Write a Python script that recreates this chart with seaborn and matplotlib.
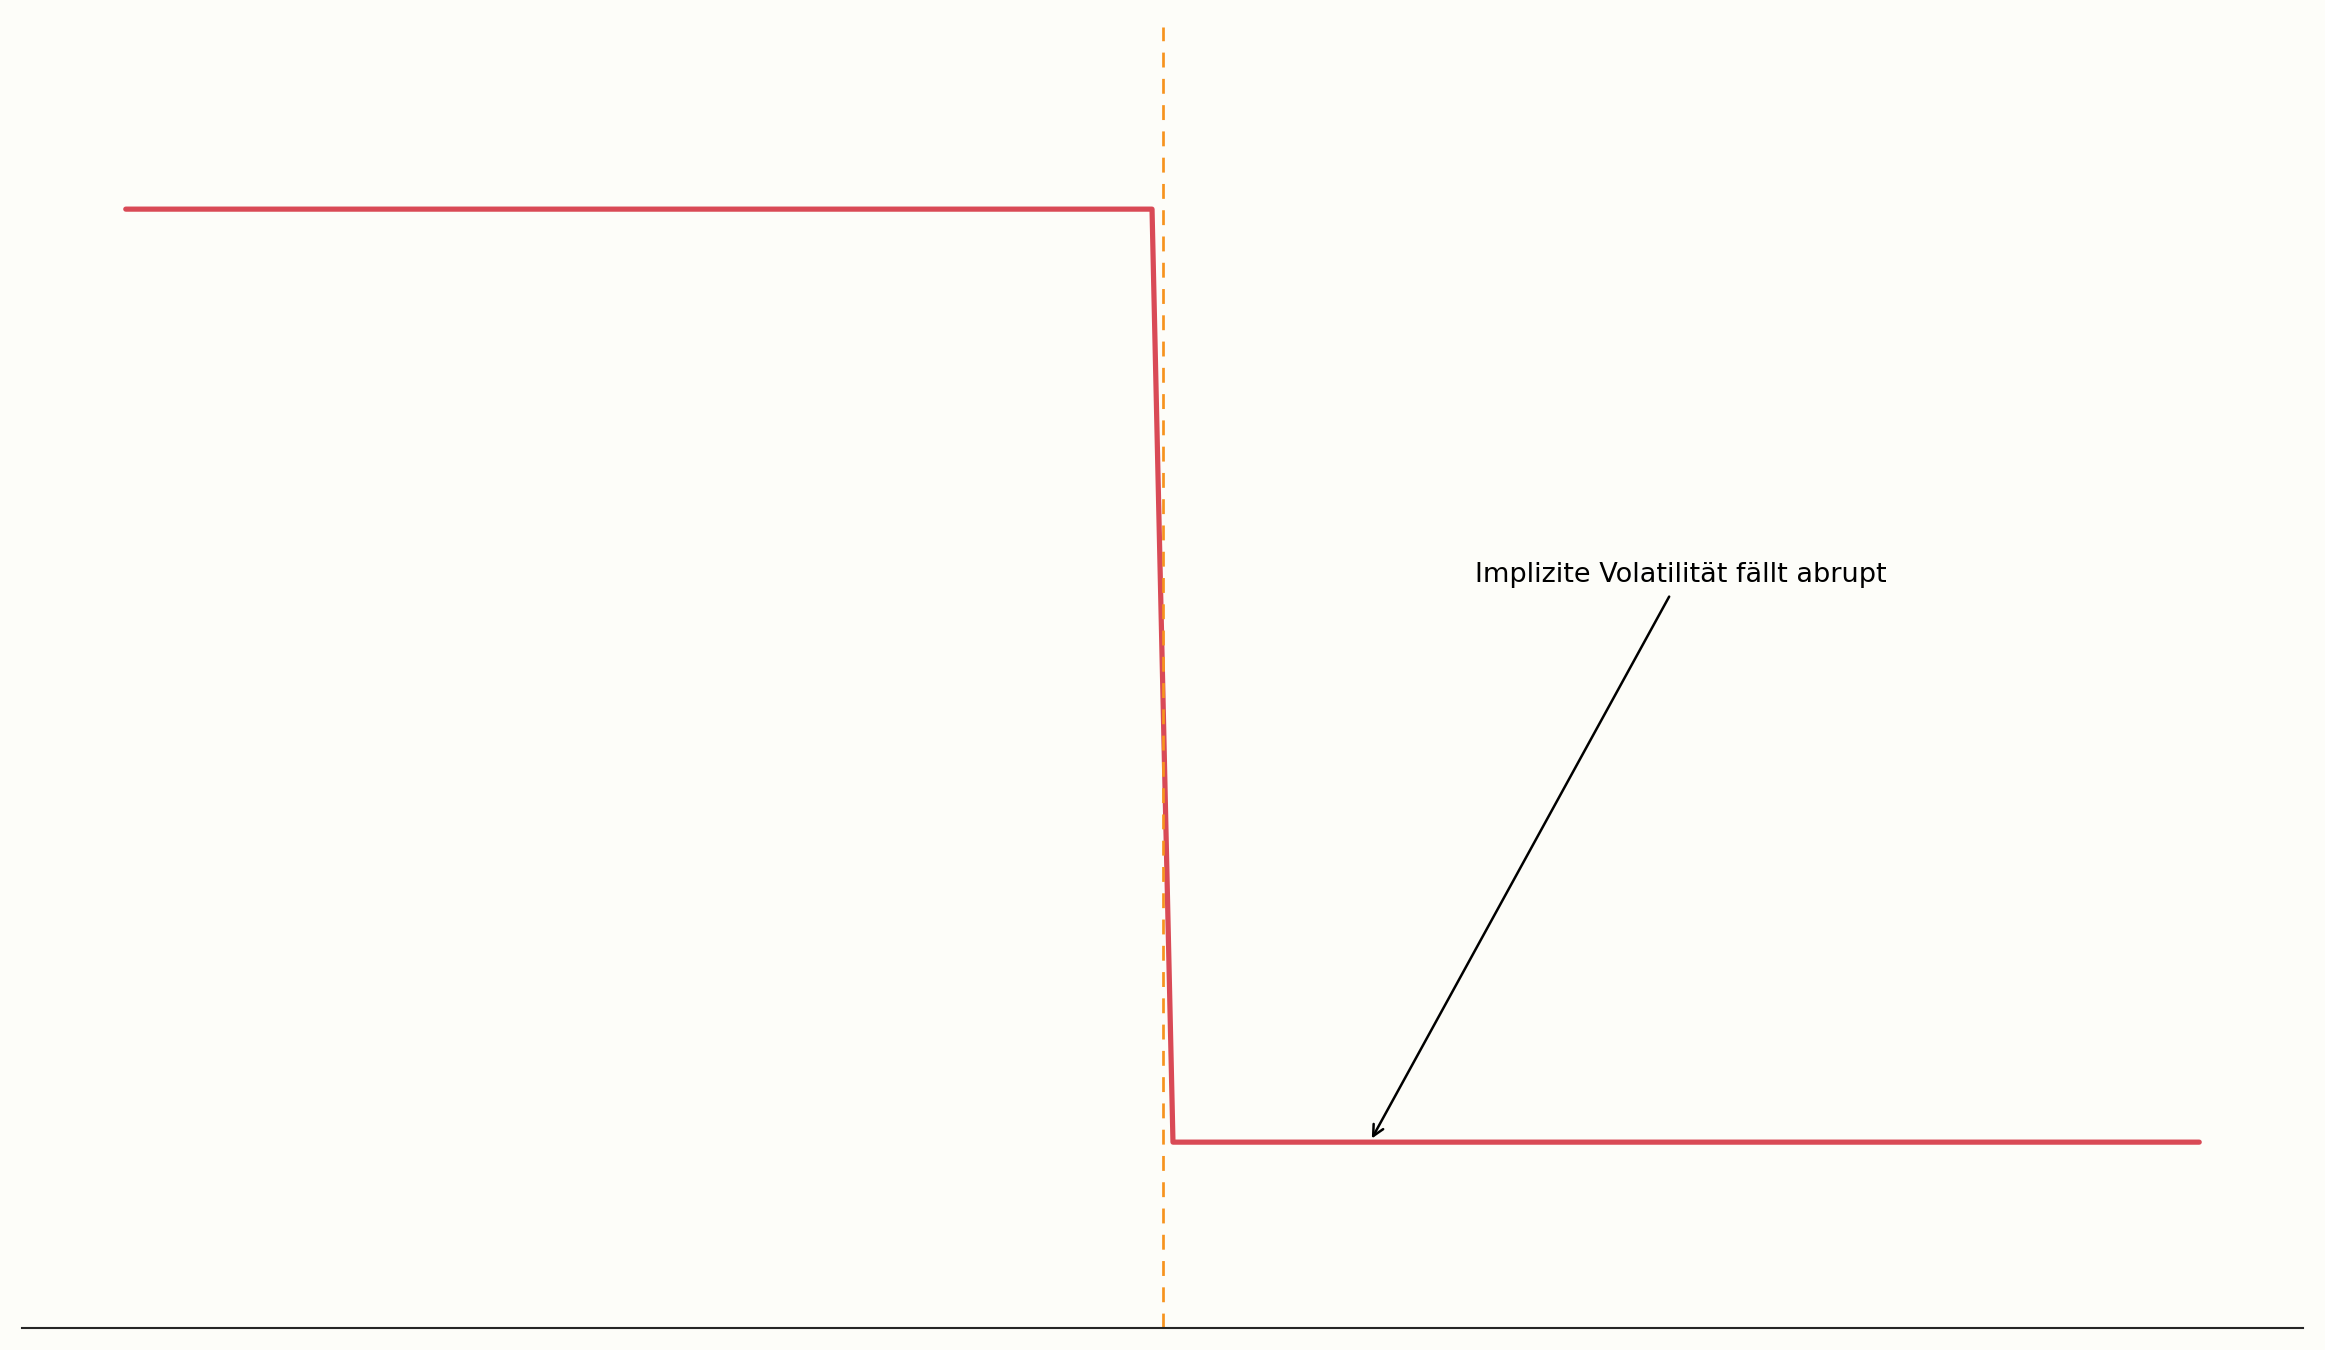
import numpy as np
import pandas as pd
import matplotlib
matplotlib.use("Agg")
import matplotlib.pyplot as plt
import seaborn as sns

# ---- data ----
n_points = 100
time_axis = np.linspace(-1.0, 1.0, n_points)          # time relative to event
iv_before = [60.2] * 50                                 # implied vol before event
iv_after = [10.0] * 50                                  # implied vol after event
event_x = 0.0
annot_text = "Implizite Volatilität fällt abrupt"
annot_xy = (0.2, 10.0)
annot_text_xy = (0.5, 40.5)

df = pd.DataFrame({"t": time_axis, "iv": iv_before + iv_after})

bg = "#fdfdf9"
sns.set_theme(style="white")
plt.rcParams["font.family"] = ["DejaVu Sans"]

fig = plt.figure(figsize=(15.5, 9), dpi=150, facecolor=bg)
ax = fig.add_axes([0.0095, 0.0163, 0.981, 0.9637])
ax.set_facecolor(bg)

sns.lineplot(data=df, x="t", y="iv", ax=ax, color="#d94a56", linewidth=2.5)
ax.axvline(event_x, color="#f7931e", linestyle=(0, (5.5, 4.2)), linewidth=1.3)

ax.set_ylim(0, 70)
ax.annotate(annot_text, xy=annot_xy, xytext=annot_text_xy,
            ha="center", va="center", fontsize=13, color="black",
            arrowprops=dict(arrowstyle="->", color="black", lw=1.2))

ax.set_xlabel("")
ax.set_ylabel("")
ax.set_xticks([])
ax.set_yticks([])
for s in ["top", "right", "left"]:
    ax.spines[s].set_visible(False)
ax.spines["bottom"].set_color("#262626")
ax.spines["bottom"].set_linewidth(1.0)

fig.savefig("out.png", dpi=150, facecolor=bg)
